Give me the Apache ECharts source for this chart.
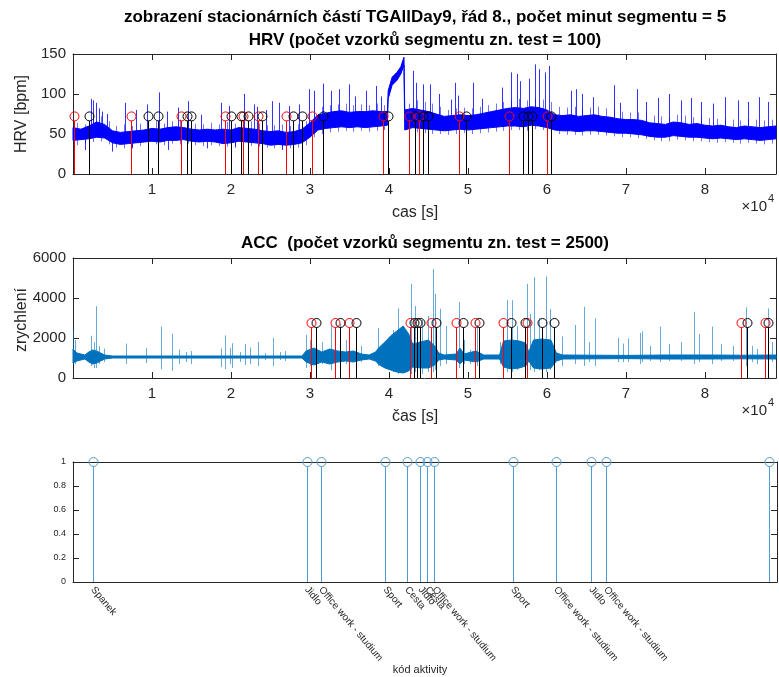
<!DOCTYPE html>
<html>
<head>
<meta charset="utf-8">
<script src="https://cdn.jsdelivr.net/npm/echarts@6/dist/echarts.min.js"></script>
<style>
  html, body { margin: 0; padding: 0; background: #fff; }
  #chart { width: 779px; height: 677px; }
</style>
</head>
<body>
<div id="chart"></div>
<script>
// ---- HRV (bpm): dense band read as low / high envelope over time [s]
const hrvT  = [0,1000,2000,3000,4000,5000,6000,7000,8000,9000,10000,11000,12000,13000,14000,15000,16000,17000,18000,19000,
  20000,21000,22000,23000,24000,25000,26000,27000,28000,29000,30000,31000,32000,33000,34000,35000,36000,37000,38000,39000,
  39800,39900,40400,41000,41500,41900,42000,43000,44000,45000,46000,47000,48000,49000,50000,51000,52000,53000,54000,55000,
  56000,57000,58000,59000,60000,61000,62000,63000,64000,65000,66000,67000,68000,69000,70000,71000,72000,73000,74000,75000,
  76000,77000,78000,79000,80000,81000,82000,83000,84000,85000,86000,87000,88000,89000];
const hrvLo = [42,43,44,46,45,39,37,38,39,40,41,40,42,42,43,41,40,41,40,38,
  39,41,40,39,38,36,37,36,37,39,46,55,57,58,59,58,59,58,59,60,
  61,94,111,117,125,136,55,58,57,56,55,54,55,56,55,56,57,58,59,60,
  60,59,61,60,58,55,54,54,53,54,54,53,52,51,51,50,49,47,46,46,
  48,47,46,46,45,44,45,44,43,44,43,42,43,44];
const hrvHi = [58,56,60,65,62,54,52,53,54,55,57,56,58,59,58,56,55,56,55,56,
  55,58,57,56,54,53,54,52,53,56,64,74,76,78,79,77,78,78,79,78,
  78,104,121,127,134,146,80,82,80,78,75,72,73,74,73,74,76,78,80,82,
  83,82,84,83,80,74,73,74,72,73,74,72,71,69,68,68,67,64,63,62,
  65,64,62,63,61,60,61,59,58,60,59,58,59,60];
// fuzz around the band edges: [time, from, to]
const hrvFuzz = [
  [500,36,64],[1500,38,62],[2500,40,70],[3500,41,72],[4500,37,66],[5500,33,60],[6500,32,62],[7500,34,60],[8500,35,63],[9500,36,64],
  [10500,37,66],[11500,36,63],[12500,38,66],[13500,37,68],[14500,38,66],[15500,36,63],[16500,35,62],[17500,36,64],[18500,35,62],[19500,34,65],
  [20500,35,63],[21500,36,67],[22500,35,66],[23500,34,63],[24500,33,61],[25500,32,61],[26500,33,62],[27500,32,60],[28500,33,62],[29500,36,66],
  [30500,46,74],[31500,50,84],[32500,52,86],[33500,53,87],[34500,54,88],[35500,53,86],[36500,54,87],[37500,53,86],[38500,54,88],[39400,55,86],
  [42500,50,88],[43500,52,92],[44500,51,90],[45500,50,88],[46500,50,84],[47500,49,80],[48500,50,82],[49500,51,83],[50500,50,82],[51500,51,84],
  [52500,52,86],[53500,53,88],[54500,54,90],[55500,55,93],[56500,55,94],[57500,54,92],[58500,56,95],[59500,55,93],[60500,53,90],[61500,50,84],
  [62500,49,83],[63500,49,84],[64500,48,82],[65500,49,83],[66500,49,84],[67500,48,82],[68500,47,81],[69500,46,78],[70500,46,77],[71500,45,77],
  [72500,44,76],[73500,42,73],[74500,41,72],[75500,41,71],[76500,43,74],[77500,42,73],[78500,41,71],[79500,41,72],[80500,40,70],[81500,39,69],
  [82500,40,70],[83500,39,68],[84500,38,67],[85500,39,69],[86500,38,68],[87500,37,67],[88500,38,68]
];
// HRV spikes: [time, from, to]
const hrvSpikes = [
  [1500,30,45],[2280,55,94],[2530,55,92],[2950,55,89],[3290,55,82],[3700,50,78],[4300,50,75],[5000,28,45],
  [6620,50,89],[7500,32,45],[8010,50,80],[9370,45,87],[10930,45,102],[11900,45,78],[12000,30,45],[13290,48,83],
  [14560,48,91],[16200,48,74],[17000,32,45],[18770,48,89],[19790,48,85],[20500,33,45],[21690,48,100],[22870,48,87],
  [23300,48,84],[24400,48,80],[25230,48,91],[26100,48,89],[26500,30,45],[27340,48,85],[28610,48,87],[29870,55,106],
  [30500,60,104],[31690,65,113],[32620,65,104],[33670,65,106],[34940,65,112],[35700,65,97],[37050,65,104],
  [38320,65,110],[39000,65,97],[42500,35,60],[43040,65,129],[43400,65,114],[44300,65,112],[45150,65,112],
  [46300,65,100],[47900,65,93],[48350,65,114],[48700,65,98],[50630,65,114],[51800,65,94],[54340,70,108],
  [55400,70,127],[56200,70,125],[56600,70,116],[57700,70,119],[58480,70,137],[59000,70,131],[59700,70,127],
  [60200,70,135],[63000,65,104],[63700,65,106],[64500,65,100],[65800,65,96],[68480,65,111],[69200,65,89],
  [71350,65,106],[72500,60,90],[74000,60,95],[75500,60,100],[77000,60,92],[78300,60,95],[79500,60,90],
  [81000,55,88],[82500,55,96],[84200,55,92],[85400,55,90],[86800,55,96],[88000,55,90]
];
const hrvRed   = [130,7340,13710,19180,21580,23390,26920,30230,39280,42530,43800,48860,55190,59970];
const hrvBlack = [2030,9490,10720,14370,14960,20030,21300,22190,23960,27910,29030,31680,39910,43250,44370,44960,49810,57030,57590,58140,60530];
const hrvStemH = 72;

// ---- ACC: baseline band + spikes
const accT  = [0,500,1000,1500,2000,2500,3000,3500,4000,5000,29000,29500,30500,31500,32500,33500,34500,35500,36500,37500,
  38300,38800,39500,40200,41000,41800,42500,43000,44000,45000,45800,46300,47000,48500,49000,49500,51000,52000,54000,54500,
  55500,56500,57300,57700,58300,59300,60500,61200,62000,70000,75000,80000,85000,89000];
const accLo = [750,850,900,950,800,700,750,850,950,1000,1000,800,650,800,700,800,850,800,900,950,
  850,650,500,400,300,250,350,550,500,500,650,900,950,900,700,900,800,950,950,550,
  450,500,600,850,500,450,500,850,950,970,950,950,960,950];
const accHi = [1450,1250,1200,1150,1300,1400,1350,1250,1150,1100,1100,1350,1500,1300,1450,1350,1300,1350,1200,1150,
  1300,1550,1800,2100,2350,2600,2200,1700,1800,1900,1600,1250,1150,1200,1500,1200,1350,1150,1150,1850,
  1900,1850,1750,1300,1900,1950,1900,1250,1150,1130,1150,1150,1140,1150];
const accSpikes = [
  [0,800,2400],[300,700,1900],[2280,600,2110],[2700,500,1800],[2950,500,3590],[3300,700,1600],[3880,800,1470],
  [6710,700,1720],[9200,750,1490],[11100,440,2570],[12530,360,2210],[13380,700,1420],[14300,800,1300],[14940,700,1350],
  [18780,540,1470],[19200,440,2130],[19900,700,1500],[20080,500,1740],[21100,800,1300],[21810,650,1690],[22360,700,1520],
  [23420,600,1810],[24300,900,1250],[25360,600,2000],[26200,900,1300],[26800,850,1350],[29450,500,2160],[30000,600,1900],
  [31500,700,1800],[32620,400,2650],[33800,500,2700],[34500,700,1900],[35860,600,2000],[36500,800,1600],[38600,600,2500],
  [40500,300,2400],[41200,200,3480],[42740,200,4710],[43300,300,3600],[44200,200,2900],[45000,300,3100],[45570,300,5450],
  [45800,400,4200],[46500,600,3460],[47200,700,2600],[48860,500,3800],[49500,700,1900],[50300,700,1420],[51200,600,2650],
  [54000,700,1800],[55000,300,3900],[55610,300,3890],[56200,400,2600],[57430,200,4710],[57800,400,3200],[58350,300,5040],
  [59000,400,3000],[59910,300,5070],[60400,400,3450],[61940,600,2080],[63600,700,2650],[64680,600,3560],[65300,800,1800],
  [66040,600,2990],[68990,800,2000],[69600,800,1720],[70200,800,1980],[71730,700,2250],[72070,800,2330],[73000,850,1600],
  [74300,800,2570],[75500,850,1700],[77000,850,1800],[78610,700,3310],[79300,800,2200],[80930,700,2570],[82000,850,1700],
  [83500,850,1600],[85150,600,3530],[86000,800,1600],[86600,700,1450],[87970,600,3480],[88500,800,1800]
];
const accRed   = [30170,33200,34940,42660,45320,48540,50950,54470,57470,84560,87560];
const accBlack = [30820,33860,35860,43160,43580,43950,45910,49410,51460,55480,57220,59370,60890,85350,87970];
const accStemH = 2750;

// ---- activity codes
const actT = [2490,29530,31300,39460,42180,43890,44720,45660,55570,61010,65480,67340,87970];
const actNames = ['Spanek','Jidlo','Office work - studium','Sport','Cesta','Jidlo','Cesta',
  'Office work - studium','Sport','Office work - studium','Jidlo','Office work - studium',''];

const FONT = '"Liberation Sans", Arial, Helvetica, sans-serif';
const AX = '#262626';

var chart = echarts.init(document.getElementById('chart'));

function xAx(grid, position, withLabels) {
  return {
    type: 'value', gridIndex: grid, position: position, min: 0, max: 89000, interval: 10000,
    axisLine: { show: true, onZero: false, lineStyle: { color: AX, width: 1 } },
    axisTick: { show: true, inside: true, length: 6, lineStyle: { color: AX } },
    axisLabel: { show: withLabels, color: AX, fontSize: 15, fontFamily: FONT, margin: 8,
      formatter: function (v) { return (v > 0 && v % 10000 === 0) ? String(v / 10000) : ''; } },
    splitLine: { show: false }
  };
}
function yAx(grid, position, max, interval, withLabels, fs) {
  return {
    type: 'value', gridIndex: grid, position: position, min: 0, max: max, interval: interval,
    axisLine: { show: true, onZero: false, lineStyle: { color: AX, width: 1 } },
    axisTick: { show: true, inside: true, length: 6, lineStyle: { color: AX } },
    axisLabel: { show: withLabels, color: AX, fontSize: fs, fontFamily: FONT, margin: 7,
      formatter: function (v) { return String(v); } },
    splitLine: { show: false }
  };
}

function bandSeries(xi, yi, ts, lo, hi, color) {
  return {
    type: 'custom', xAxisIndex: xi, yAxisIndex: yi, silent: true,
    data: ts.map(function (t, i) { return [t, lo[i], hi[i]]; }),
    encode: { x: 0, y: [1, 2] },
    renderItem: function (params, api) {
      if (params.dataIndex !== 0) return null;
      var top = ts.map(function (t, i) { return api.coord([t, hi[i]]); });
      var bot = ts.map(function (t, i) { return api.coord([t, lo[i]]); }).reverse();
      return { type: 'polygon', shape: { points: top.concat(bot) },
        style: { fill: color, stroke: color, lineWidth: 1 } };
    }
  };
}
function spikeSeries(xi, yi, list, color, opacity) {
  return {
    type: 'custom', xAxisIndex: xi, yAxisIndex: yi, silent: true,
    data: list, encode: { x: 0, y: [1, 2] },
    renderItem: function (params, api) {
      var a = api.coord([api.value(0), api.value(1)]);
      var b = api.coord([api.value(0), api.value(2)]);
      var x = Math.round(a[0]) + 0.5;
      return { type: 'line', shape: { x1: x, y1: a[1], x2: x, y2: b[1] },
        style: { stroke: color, lineWidth: 1, opacity: opacity } };
    }
  };
}
function stemSeries(xi, yi, times, h, color, r) {
  return {
    type: 'custom', xAxisIndex: xi, yAxisIndex: yi, silent: true,
    data: times.map(function (t) { return [t, h]; }), encode: { x: 0, y: 1 },
    renderItem: function (params, api) {
      var top = api.coord([api.value(0), api.value(1)]);
      var bot = api.coord([api.value(0), 0]);
      var x = Math.round(top[0]) + 0.5;
      return { type: 'group', children: [
        { type: 'line', shape: { x1: x, y1: bot[1], x2: x, y2: top[1] + r }, style: { stroke: color, lineWidth: 1 } },
        { type: 'circle', shape: { cx: x, cy: top[1], r: r }, style: { fill: 'none', stroke: color, lineWidth: 1 } }
      ] };
    }
  };
}

function txt(x, y, text, size, weight, opts) {
  var o = opts || {};
  return { type: 'text', x: x, y: y, rotation: o.rot || 0, z: 10,
    style: { text: text, fontSize: size, fontWeight: weight, fontFamily: FONT,
      fill: o.fill || '#000', align: o.align || 'center', verticalAlign: 'middle' } };
}

var option = {
  animation: false,
  backgroundColor: '#fff',
  grid: [
    { left: 73, right: 2, top: 54, height: 120 },
    { left: 73, right: 2, top: 258, height: 120 },
    { left: 73, right: 2, top: 462, height: 120 }
  ],
  xAxis: [
    xAx(0, 'bottom', true), xAx(0, 'top', false),
    xAx(1, 'bottom', true), xAx(1, 'top', false),
    {
      type: 'value', gridIndex: 2, position: 'bottom', min: 0, max: 89000,
      axisLine: { show: true, onZero: false, lineStyle: { color: AX } },
      axisTick: { show: false },
      axisLabel: { show: true, customValues: actT, rotate: -50, color: AX, fontSize: 10, fontFamily: FONT, margin: 6,
        formatter: function (v) { var i = actT.indexOf(v); return i >= 0 ? actNames[i] : ''; } },
      splitLine: { show: false }
    },
    {
      type: 'value', gridIndex: 2, position: 'top', min: 0, max: 89000,
      axisLine: { show: true, onZero: false, lineStyle: { color: AX } },
      axisTick: { show: false }, axisLabel: { show: false }, splitLine: { show: false }
    }
  ],
  yAxis: [
    yAx(0, 'left', 150, 50, true, 15), yAx(0, 'right', 150, 50, false, 15),
    yAx(1, 'left', 6000, 2000, true, 15), yAx(1, 'right', 6000, 2000, false, 15),
    yAx(2, 'left', 1, 0.2, true, 9), yAx(2, 'right', 1, 0.2, false, 9)
  ],
  series: [
    spikeSeries(0, 0, hrvFuzz, '#0000ff', 0.55),
    bandSeries(0, 0, hrvT, hrvLo, hrvHi, '#0000ff'),
    spikeSeries(0, 0, hrvSpikes, '#0000ff', 0.8),
    stemSeries(0, 0, hrvRed, hrvStemH, '#ff0000', 4.5),
    stemSeries(0, 0, hrvBlack, hrvStemH, '#000000', 4.5),
    bandSeries(2, 2, accT, accLo, accHi, '#0072bd'),
    spikeSeries(2, 2, accSpikes, '#0072bd', 0.6),
    stemSeries(2, 2, accRed, accStemH, '#ff0000', 4.5),
    stemSeries(2, 2, accBlack, accStemH, '#000000', 4.5),
    stemSeries(4, 4, actT, 1, '#4f9bd5', 4.5)
  ],
  graphic: [
    txt(425, 17, 'zobrazení stacionárních částí TGAllDay9, řád 8., počet minut segmentu = 5', 17, 'bold'),
    txt(425, 40, 'HRV (počet vzorků segmentu zn. test = 100)', 17, 'bold'),
    txt(22, 114, 'HRV [bpm]', 16, 'normal', { rot: Math.PI / 2, fill: AX }),
    txt(415, 213, 'cas [s]', 16, 'normal', { fill: AX }),
    txt(767, 207, '×10', 15, 'normal', { align: 'right', fill: AX }),
    txt(768, 199, '4', 11, 'normal', { align: 'left', fill: AX }),
    txt(425, 243, 'ACC  (počet vzorků segmentu zn. test = 2500)', 17, 'bold'),
    txt(22, 320, 'zrychlení', 16, 'normal', { rot: Math.PI / 2, fill: AX }),
    txt(415, 417, 'čas [s]', 16, 'normal', { fill: AX }),
    txt(767, 411, '×10', 15, 'normal', { align: 'right', fill: AX }),
    txt(768, 403, '4', 11, 'normal', { align: 'left', fill: AX }),
    txt(420, 670, 'kód aktivity', 11, 'normal', { fill: AX })
  ]
};
chart.setOption(option);
</script>
</body>
</html>
